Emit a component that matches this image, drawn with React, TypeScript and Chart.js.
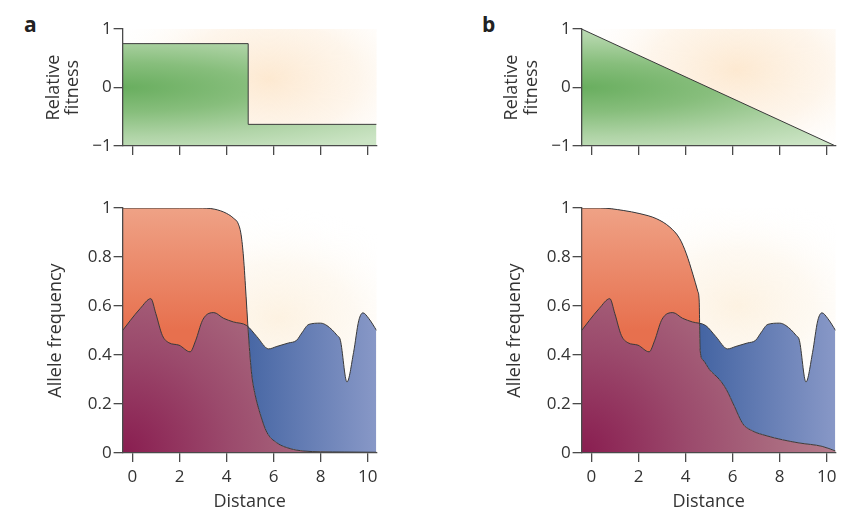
import React, { useEffect, useRef } from 'react';
import { Chart, registerables } from 'chart.js';

Chart.register(...registerables);

// ---------------- data ----------------
const X_MIN = -0.42;
const X_MAX = 10.38;

const distanceTicks = [0, 2, 4, 6, 8, 10];
const fitnessTicks = [-1, 0, 1];
const fitnessTickLabels = ['−1', '0', '1'];
const freqTicks = [0, 0.2, 0.4, 0.6, 0.8, 1];
const freqTickLabels = ['0', '0.2', '0.4', '0.6', '0.8', '1'];

// panel a: relative fitness (step)
const fitnessAX = [-0.42, 4.92, 10.38];
const fitnessAY = [0.75, -0.63, -0.63];
// panel b: relative fitness (linear gradient)
const fitnessBX = [-0.42, 10.38];
const fitnessBY = [1, -1];

// panel a: allele frequency, red allele
const redAX = [-0.42, 1, 2, 2.8, 3.5, 4.0, 4.3, 4.5, 4.62, 4.72, 4.83, 4.9, 4.97, 5.07, 5.21, 5.43, 5.71, 6.13, 6.7, 7.28, 8.0, 9.0, 10.38];
const redAY = [1, 1, 1, 1, 0.995, 0.978, 0.958, 0.935, 0.89, 0.8, 0.64, 0.53, 0.43, 0.32, 0.24, 0.16, 0.085, 0.042, 0.018, 0.008, 0.005, 0.004, 0.003];

// both panels: allele frequency, blue allele
const blueX = [-0.42, -0.1, 0.33, 0.78, 0.99, 1.27, 1.55, 1.98, 2.45, 2.69, 2.97, 3.25, 3.46, 3.87, 4.29, 4.86, 5.29, 5.79, 6.14, 6.63, 6.98, 7.2, 7.5, 8.0, 8.27, 8.7, 8.84, 9.12, 9.4, 9.62, 9.8, 10.04, 10.38];
const blueY = [0.5, 0.54, 0.59, 0.63, 0.57, 0.48, 0.45, 0.44, 0.413, 0.46, 0.54, 0.57, 0.573, 0.55, 0.535, 0.52, 0.475, 0.425, 0.435, 0.449, 0.46, 0.49, 0.525, 0.53, 0.52, 0.48, 0.46, 0.29, 0.41, 0.54, 0.572, 0.55, 0.5];

// panel b: allele frequency, red allele
const redBX = [-0.42, 0.37, 1.35, 2.06, 2.77, 3.33, 3.75, 4.03, 4.31, 4.52, 4.58, 4.62, 4.74, 5.02, 5.44, 5.73, 6.08, 6.43, 6.85, 7.42, 8.12, 8.83, 9.81, 10.38];
const redBY = [1, 1, 0.99, 0.977, 0.956, 0.922, 0.875, 0.814, 0.73, 0.66, 0.62, 0.42, 0.38, 0.34, 0.3, 0.26, 0.19, 0.12, 0.09, 0.071, 0.054, 0.041, 0.027, 0.008];

// ---------------- style ----------------
const FONT = "'Open Sans', 'DejaVu Sans', sans-serif";
const TXT = '#333333';
const AXIS = '#4a4a4a';
const LINE = '#3a3a3a';

type Series = { xs: number[]; ys: number[]; stepped?: boolean };
type Glow = { x: number; y: number; rx: number; ry: number; color: string; mid: string };
type Spec = {
  id: string;
  kind: 'fitness' | 'freq';
  left: number; top: number; width: number; height: number;
  yW: number; xH: number; padTop: number; padRight: number;
  yTitlePad: number; xTitlePad: number;
  glow: Glow;
  series: Series[]; // fitness: [curve]; freq: [blue allele, red allele]
};

const TOP_GLOW = { rx: 0.7, ry: 0.95, color: 'rgba(253,233,209,1)', mid: 'rgba(253,239,222,0.6)' };
const BOT_GLOW = { rx: 0.6, ry: 0.45, color: 'rgba(253,242,226,1)', mid: 'rgba(253,245,233,0.6)' };

const PANELS: Spec[] = [
  {
    id: 'fa', kind: 'fitness', left: 32, top: 8, width: 355, height: 154,
    yW: 90.6, xH: 16, padTop: 21, padRight: 10.4, yTitlePad: 11.5, xTitlePad: 0,
    glow: { x: 5.8, y: 0.15, ...TOP_GLOW },
    series: [{ xs: fitnessAX, ys: fitnessAY, stepped: true }],
  },
  {
    id: 'fb', kind: 'fitness', left: 491, top: 8, width: 355, height: 154,
    yW: 90.6, xH: 16, padTop: 21, padRight: 10.4, yTitlePad: 11.2, xTitlePad: 0,
    glow: { x: 6.2, y: 0.3, ...TOP_GLOW },
    series: [{ xs: fitnessBX, ys: fitnessBY }],
  },
  {
    id: 'aa', kind: 'freq', left: 30, top: 188, width: 357, height: 328,
    yW: 92.6, xH: 63, padTop: 20, padRight: 10.4, yTitlePad: 16, xTitlePad: 4,
    glow: { x: 6.2, y: 0.55, ...BOT_GLOW },
    series: [{ xs: blueX, ys: blueY }, { xs: redAX, ys: redAY }],
  },
  {
    id: 'ab', kind: 'freq', left: 489, top: 188, width: 357, height: 328,
    yW: 92.6, xH: 63, padTop: 20, padRight: 10.4, yTitlePad: 15.6, xTitlePad: 4,
    glow: { x: 6.2, y: 0.6, ...BOT_GLOW },
    series: [{ xs: blueX, ys: blueY }, { xs: redBX, ys: redBY }],
  },
];

// ---------------- helpers ----------------
function makePattern(chart: any, paint: (g: CanvasRenderingContext2D, a: any, sx: any, sy: any) => void) {
  const c = document.createElement('canvas');
  c.width = chart.canvas.width;
  c.height = chart.canvas.height;
  const g = c.getContext('2d') as CanvasRenderingContext2D;
  paint(g, chart.chartArea, chart.scales.x, chart.scales.y);
  return chart.ctx.createPattern(c, 'no-repeat');
}

function glowPlugin(glow: Glow) {
  return {
    id: 'glow',
    beforeDraw(chart: any) {
      const { ctx, chartArea: a, scales } = chart;
      const px = scales.x.getPixelForValue(glow.x);
      const py = scales.y.getPixelForValue(glow.y);
      const rx = a.width * glow.rx;
      const ry = a.height * glow.ry;
      ctx.save();
      ctx.beginPath();
      ctx.rect(a.left, a.top, a.width, a.height);
      ctx.clip();
      ctx.translate(px, py);
      ctx.scale(1, ry / rx);
      const gr = ctx.createRadialGradient(0, 0, 0, 0, 0, rx);
      gr.addColorStop(0, glow.color);
      gr.addColorStop(0.5, glow.mid);
      gr.addColorStop(1, 'rgba(255,255,255,0)');
      ctx.fillStyle = gr;
      ctx.fillRect(-rx * 3, -rx * 3, rx * 6, rx * 6);
      ctx.restore();
    },
  };
}

function buildChart(canvas: HTMLCanvasElement, spec: Spec) {
  const isFit = spec.kind === 'fitness';
  const yTicks = isFit ? fitnessTicks : freqTicks;
  const yLabels = isFit ? fitnessTickLabels : freqTickLabels;

  const datasets: any[] = spec.series.map((s, i) => ({
    label: 'series' + i,
    data: s.xs.map((x, k) => ({ x, y: s.ys[k] })),
    borderColor: LINE,
    borderWidth: 1,
    pointRadius: 0,
    pointHoverRadius: 0,
    stepped: s.stepped ? 'before' : false,
    cubicInterpolationMode: 'monotone',
    backgroundColor: 'rgba(0,0,0,0)',
    fill: isFit ? 'start' : i === 1 ? 'origin' : { target: 1, above: 'rgba(0,0,0,0)', below: 'rgba(0,0,0,0)' },
  }));

  const chart: any = new Chart(canvas, {
    type: 'line',
    data: { datasets },
    plugins: [glowPlugin(spec.glow)],
    options: {
      responsive: false,
      animation: false,
      devicePixelRatio: 1,
      events: [],
      layout: { padding: { top: spec.padTop, right: spec.padRight, left: 0, bottom: 0 } },
      plugins: {
        legend: { display: false },
        tooltip: { enabled: false },
        filler: { drawTime: 'beforeDatasetsDraw' },
      },
      scales: {
        x: {
          type: 'linear',
          min: X_MIN,
          max: X_MAX,
          afterBuildTicks: (s: any) => { s.ticks = distanceTicks.map((v) => ({ value: v })); },
          afterFit: (s: any) => { s.height = spec.xH; },
          grid: { drawOnChartArea: false, drawTicks: true, tickLength: 9, color: AXIS, lineWidth: 1.3 },
          border: { display: true, color: AXIS, width: 1.3, z: 1 },
          ticks: {
            display: !isFit,
            autoSkip: false,
            maxRotation: 0,
            padding: 5,
            color: TXT,
            font: { family: FONT, size: 17 },
          },
          title: {
            display: !isFit,
            text: 'Distance',
            color: TXT,
            font: { family: FONT, size: 18, lineHeight: 1.1 },
            padding: { top: 0, bottom: spec.xTitlePad },
          },
        },
        y: {
          type: 'linear',
          min: yTicks[0],
          max: yTicks[yTicks.length - 1],
          afterBuildTicks: (s: any) => { s.ticks = yTicks.map((v) => ({ value: v })); },
          afterFit: (s: any) => { s.width = spec.yW; },
          grid: { drawOnChartArea: false, drawTicks: true, tickLength: 9, color: AXIS, lineWidth: 1.3 },
          border: { display: true, color: AXIS, width: 1.3, z: 1 },
          ticks: {
            padding: 2,
            color: TXT,
            font: { family: FONT, size: 17 },
            callback: (v: any) => { const i = yTicks.indexOf(v); return i >= 0 ? yLabels[i] : ''; },
          },
          title: {
            display: true,
            text: isFit ? ['Relative', 'fitness'] : 'Allele frequency',
            color: TXT,
            font: { family: FONT, size: 18, lineHeight: 1.1 },
            padding: { top: spec.yTitlePad, bottom: 0 },
          },
        },
      },
    } as any,
  });

  if (isFit) {
    const green = makePattern(chart, (g, a, sx, sy) => {
      const cx = a.left;
      const cy = sy.getPixelForValue(0);
      const rx = a.width * 1.45;
      const ry = a.height * 0.6;
      g.save();
      g.translate(cx, cy);
      g.scale(1, ry / rx);
      const gr = g.createRadialGradient(0, 0, 0, 0, 0, rx);
      gr.addColorStop(0, '#69ae5f');
      gr.addColorStop(0.35, '#87be7c');
      gr.addColorStop(0.7, '#b0d4a7');
      gr.addColorStop(1, '#cbe4c4');
      g.fillStyle = gr;
      g.fillRect(-rx * 2, -rx * 2, rx * 4, rx * 4);
      g.restore();
    });
    chart.data.datasets[0].backgroundColor = green;
  } else {
    const mauve = makePattern(chart, (g, a) => {
      const gr = g.createRadialGradient(a.left, a.bottom, 0, a.left, a.bottom, a.width * 1.05);
      gr.addColorStop(0, '#891d50');
      gr.addColorStop(0.4, '#9b4a6c');
      gr.addColorStop(0.7, '#a8677d');
      gr.addColorStop(1, '#b9808f');
      g.fillStyle = gr;
      g.fillRect(a.left, a.top, a.width, a.height);
    });
    const orange = makePattern(chart, (g, a, sx, sy) => {
      const gr = g.createLinearGradient(0, a.top, 0, sy.getPixelForValue(0.5));
      gr.addColorStop(0, '#efa286');
      gr.addColorStop(1, '#e7704e');
      g.fillStyle = gr;
      g.fillRect(a.left, a.top, a.width, a.height);
    });
    const blue = makePattern(chart, (g, a, sx) => {
      const gr = g.createLinearGradient(sx.getPixelForValue(4.7), 0, a.right, 0);
      gr.addColorStop(0, '#4565a3');
      gr.addColorStop(1, '#8898c7');
      g.fillStyle = gr;
      g.fillRect(a.left, a.top, a.width, a.height);
    });
    // red allele (index 1): area under curve in mauve; blue allele (index 0): area between blue and red
    chart.data.datasets[1].backgroundColor = mauve;
    chart.data.datasets[0].fill = { target: 1, above: blue, below: orange };
  }
  chart.update('none');
  return chart;
}

function Panel({ spec }: { spec: Spec }) {
  const ref = useRef<HTMLCanvasElement>(null);
  useEffect(() => {
    const chart = buildChart(ref.current as HTMLCanvasElement, spec);
    return () => chart.destroy();
  }, [spec]);
  return (
    <canvas
      ref={ref}
      width={spec.width}
      height={spec.height}
      style={{ position: 'absolute', left: spec.left, top: spec.top, width: spec.width, height: spec.height }}
    />
  );
}

export default function App() {
  const letter: React.CSSProperties = {
    position: 'absolute',
    fontFamily: FONT,
    fontWeight: 700,
    fontSize: 21,
    lineHeight: '21px',
    color: '#222',
  };
  return (
    <div style={{ position: 'absolute', left: 0, top: 0, width: 851, height: 524, background: '#fff', overflow: 'hidden' }}>
      <div style={{ ...letter, left: 24, top: 14 }}>a</div>
      <div style={{ ...letter, left: 482, top: 14 }}>b</div>
      {PANELS.map((p) => (
        <Panel key={p.id} spec={p} />
      ))}
    </div>
  );
}
